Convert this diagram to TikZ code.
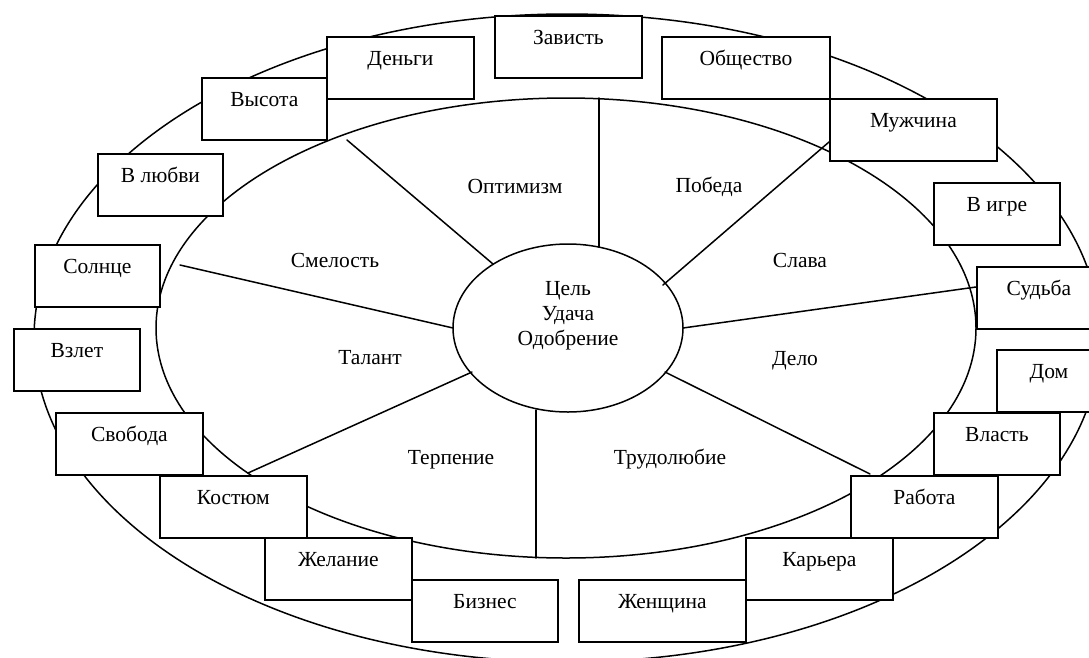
\documentclass[tikz,border=0pt]{standalone}
\usepackage{fontspec}
\setmainfont{Liberation Serif}
\usepackage{tikz}
\usepackage{tkz-euclide}
\usetikzlibrary{shapes.geometric}
\tikzset{
	rim/.style={line width=1.5pt},
	word/.style={font=\fontsize{21.5}{25}\selectfont, anchor=base},
	card/.style={draw, fill=white, line width=1.8pt, anchor=north west, inner sep=0pt,
		minimum width=#1, minimum height=62pt, text height=29pt, text depth=33pt,
		font=\fontsize{21.5}{25}\selectfont}
}

\begin{document}
\begin{tikzpicture}[x=1pt,y=-1pt]
							\useasboundingbox (0,0) rectangle (1089,657);
							\clip (0,0) rectangle (1089,657);
							\draw[rim] (567,338) ellipse [x radius=533, y radius=324];
							\draw[rim] (566,328) ellipse [x radius=410, y radius=230];
							\node[draw, rim, ellipse, minimum width=230pt, minimum height=168pt, inner sep=0pt] (goal) at (568,328) {};
							\node[align=center, font=\fontsize{21.5}{25}\selectfont] (goaltext) at (568,316) {Цель\\Удача\\Одобрение};
							
							\tkzDefPoint(347,140){A1};
							\tkzDefPoint(493,264){B1};
							\tkzDefPoint(599,98){A2};
							\tkzDefPoint(599,247){B2};
							\tkzDefPoint(829,142){A3};
							\tkzDefPoint(663,285){B3};
							\tkzDefPoint(976,287){A4};
							\tkzDefPoint(683,328){B4};
							\tkzDefPoint(870,474){A5};
							\tkzDefPoint(665,372){B5};
							\tkzDefPoint(536,558){A6};
							\tkzDefPoint(536,410){B6};
							\tkzDefPoint(248,473){A7};
							\tkzDefPoint(472,372){B7};
							\tkzDefPoint(180,265){A8};
							\tkzDefPoint(453,328){B8};
							\tkzDrawSegments[rim](A1,B1 A2,B2 A3,B3 A4,B4 A5,B5 A6,B6 A7,B7 A8,B8);
							
							\node[word] (optimizm) at (515,193) {Оптимизм};
							\node[word] (pobeda) at (709,192) {Победа};
							\node[word] (smelost) at (335,267) {Смелость};
							\node[word] (slava) at (800,267) {Слава};
							\node[word] (talant) at (370,364) {Талант};
							\node[word] (delo) at (795,365) {Дело};
							\node[word] (terpenie) at (451,464) {Терпение};
							\node[word] (trud) at (670,464) {Трудолюбие};
							
							\node[card=147pt] (zavist) at (494,15) {Зависть};
							\node[card=147pt] (dengi) at (326,36) {Деньги};
							\node[card=168pt] (obshchestvo) at (661,36) {Общество};
							\node[card=125pt] (vysota) at (201,77) {Высота};
							\node[card=167pt] (muzhchina) at (829,98) {Мужчина};
							\node[card=125pt] (lyubov) at (97,153) {В любви};
							\node[card=126pt] (igra) at (933,182) {В игре};
							\node[card=125pt] (solntse) at (34,244) {Солнце};
							\node[card=124pt] (sudba) at (976,266) {Судьба};
							\node[card=126pt] (vzlet) at (13,328) {Взлет};
							\node[card=104pt] (dom) at (996,349) {Дом};
							\node[card=147pt] (svoboda) at (55,412) {Свобода};
							\node[card=126pt] (vlast) at (933,412) {Власть};
							\node[card=147pt] (kostyum) at (159,475) {Костюм};
							\node[card=147pt] (rabota) at (850,475) {Работа};
							\node[card=147pt] (zhelanie) at (264,537) {Желание};
							\node[card=147pt] (karera) at (745,537) {Карьера};
							\node[card=146pt] (biznes) at (411,579) {Бизнес};
							\node[card=167pt] (zhenshchina) at (578,579) {Женщина};
						\end{tikzpicture}
\end{document}
